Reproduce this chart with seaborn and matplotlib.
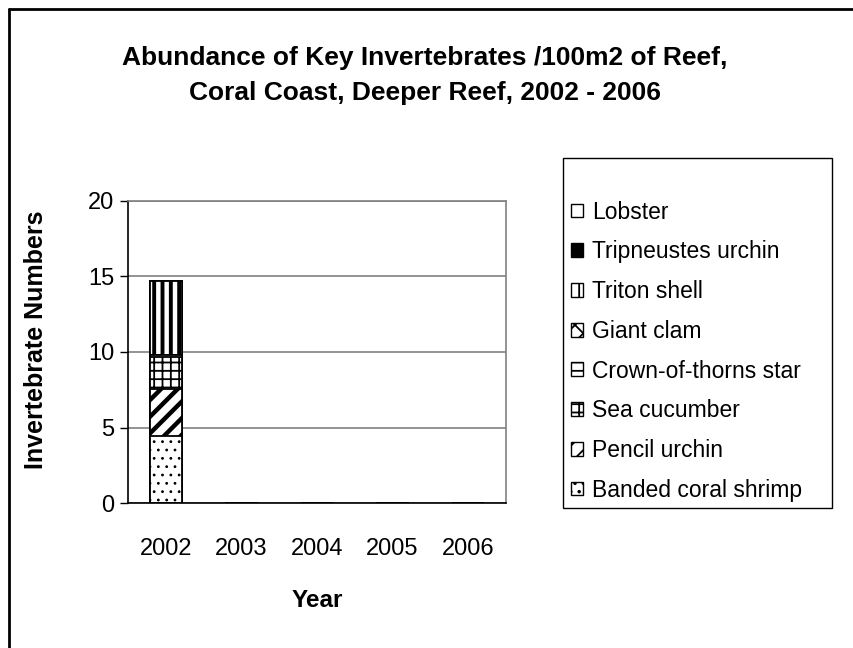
import matplotlib
matplotlib.use("Agg")
import matplotlib.pyplot as plt
import seaborn as sns
import pandas as pd
import numpy as np
from matplotlib.patches import Patch, Rectangle
from matplotlib.lines import Line2D

years = ["2002", "2003", "2004", "2005", "2006"]
species = ["Banded coral shrimp", "Pencil urchin", "Sea cucumber",
           "Crown-of-thorns star", "Giant clam", "Triton shell",
           "Tripneustes urchin", "Lobster"]
banded_coral_shrimp = [4.45, 0, 0, 0, 0]
pencil_urchin = [3.1, 0, 0, 0, 0]
sea_cucumber = [2.15, 0, 0, 0, 0]
crown_of_thorns = [0.1, 0, 0, 0, 0]
giant_clam = [0, 0, 0, 0, 0]
triton_shell = [4.9, 0, 0, 0, 0]
tripneustes_urchin = [0, 0, 0, 0, 0]
lobster = [0, 0, 0, 0, 0]
series = [banded_coral_shrimp, pencil_urchin, sea_cucumber, crown_of_thorns,
          giant_clam, triton_shell, tripneustes_urchin, lobster]

hatches = ["..", "//", "++", "--", "xx", "||", None, None]
hatch_lw = [0.8, 3.2, 1.3, 1.3, 1.0, 2.8, 1.0, 1.0]
faces = ["white", "white", "white", "white", "white", "white", "black", "white"]

sns.set_theme(style="white")
plt.rcParams["font.family"] = ["Liberation Sans", "DejaVu Sans"]
plt.rcParams["text.color"] = "black"
plt.rcParams["axes.labelcolor"] = "black"
plt.rcParams["xtick.color"] = "black"
plt.rcParams["ytick.color"] = "black"
plt.rcParams["hatch.linewidth"] = 1.3

fig = plt.figure(figsize=(8.54, 6.48), dpi=100)
ax = fig.add_axes([128/854, 1-503/648, (506-128)/854, (503-201)/648])

cum = np.cumsum(np.array(series), axis=0)
# draw from top layer down so lower layers overlay
for i in range(len(species)-1, -1, -1):
    df = pd.DataFrame({"Year": years, "Value": cum[i]})
    n_before = len(ax.patches)
    sns.barplot(data=df, x="Year", y="Value", ax=ax, color=faces[i],
                width=0.43, edgecolor="black", linewidth=1.3,
                hatch=hatches[i], saturation=1, errorbar=None)
    for p in ax.patches[n_before:]:
        if hasattr(p, "set_hatch_linewidth"):
            p.set_hatch_linewidth(hatch_lw[i])

ax.set_ylim(0, 20)
ax.set_xlim(-0.5, 4.5)
ax.set_yticks([0, 5, 10, 15, 20])
ax.yaxis.grid(True, color="#808080", linewidth=1.2)
ax.set_axisbelow(True)
ax.set_xticks(np.arange(-0.5, 5, 1), minor=True)
ax.tick_params(axis="x", which="major", length=0, labelsize=17, pad=25, colors="black")
ax.tick_params(axis="x", which="minor", length=6, width=1, direction="out", color="black")
ax.tick_params(axis="y", length=6, width=1, direction="out", labelsize=17, pad=4, color="black", left=True)
for s in ["top", "right"]:
    ax.spines[s].set_color("#808080")
    ax.spines[s].set_linewidth(1.2)
for s in ["left", "bottom"]:
    ax.spines[s].set_color("black")
    ax.spines[s].set_linewidth(1.2)

ax.set_xlabel("Year", fontsize=17.5, fontweight="bold", labelpad=21)
ax.set_ylabel("Invertebrate Numbers", fontsize=18, fontweight="bold")
ax.yaxis.set_label_coords(-0.211, 0.54)

fig.text(425/854, 1-58/648, "Abundance of Key Invertebrates /100m2 of Reef,",
         ha="center", va="center", fontsize=19, fontweight="bold")
fig.text(425/854, 1-93/648, "Coral Coast, Deeper Reef, 2002 - 2006",
         ha="center", va="center", fontsize=19, fontweight="bold")

handles = []
for i in range(len(species)-1, -1, -1):
    h = Patch(facecolor=faces[i], edgecolor="black", hatch=hatches[i],
              linewidth=1.0, label=species[i])
    handles.append(h)
leg = fig.legend(handles=handles, loc="upper left",
                 bbox_to_anchor=(566/854, 1-196/648), bbox_transform=fig.transFigure,
                 fontsize=16.5, frameon=False,
                 handlelength=0.55, handleheight=0.55, handletextpad=0.4,
                 labelspacing=0.73, borderpad=0.2, borderaxespad=0)
fig.add_artist(Rectangle((563/854, 1-508/648), (832-563)/854, (508-158)/648,
                         transform=fig.transFigure, fill=False,
                         edgecolor="black", linewidth=1.0))

fig.add_artist(Line2D([9.5/854, 9.5/854], [0, 1-8.5/648], transform=fig.transFigure,
                      color="black", linewidth=2))
fig.add_artist(Line2D([9.5/854, 1], [1-8.5/648, 1-8.5/648], transform=fig.transFigure,
                      color="black", linewidth=2))

fig.savefig("out.png", dpi=100, facecolor="white")
